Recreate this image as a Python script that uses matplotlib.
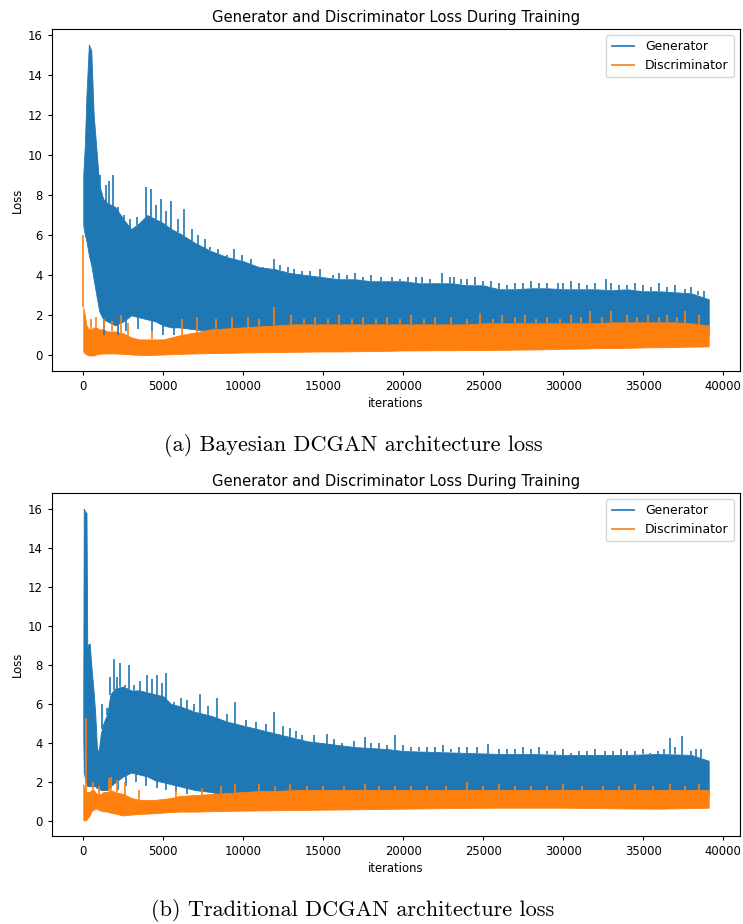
import numpy as np
import matplotlib
matplotlib.use("Agg")
import matplotlib.pyplot as plt

# ---- (a) Bayesian DCGAN: band envelopes ----
it_a = [0, 100, 200, 350, 500, 650, 800, 1000, 1250, 1500, 2000, 2500, 3000, 3500,
        4000, 4500, 5000, 5500, 6000, 7000, 8000, 9000, 10000, 11000, 12000, 13000,
        14000, 15000, 16000, 17000, 18000, 19000, 20000, 21000, 22000, 23000, 24000,
        25000, 26000, 27000, 28000, 29000, 30000, 31000, 32000, 33000, 34000, 35000,
        36000, 37000, 38000, 39100]
gen_hi_a = [9.0, 10.5, 13.0, 15.5, 15.2, 12.0, 10.5, 8.5, 7.8, 7.6, 7.4, 6.8, 6.3, 6.6,
            7.0, 6.8, 6.6, 6.3, 6.1, 5.6, 5.2, 4.9, 4.7, 4.4, 4.3, 4.1,
            4.0, 3.9, 3.8, 3.8, 3.7, 3.7, 3.7, 3.6, 3.6, 3.6, 3.5,
            3.5, 3.3, 3.3, 3.35, 3.35, 3.3, 3.3, 3.3, 3.25, 3.3, 3.2,
            3.2, 3.15, 3.1, 2.8]
gen_lo_a = [6.5, 6.0, 5.7, 5.0, 4.5, 3.8, 3.1, 2.2, 1.8, 1.7, 1.5, 1.7, 2.0, 1.9,
            1.8, 1.7, 1.5, 1.4, 1.4, 1.3, 1.2, 1.1, 1.0, 1.0, 1.0, 1.0,
            1.0, 1.0, 1.0, 1.0, 1.0, 1.0, 1.0, 1.0, 1.0, 1.0, 1.0,
            1.0, 1.0, 1.0, 1.0, 1.0, 1.0, 1.0, 1.0, 1.0, 1.0, 1.0,
            1.0, 1.0, 1.0, 1.0]
dis_hi_a = [2.4, 2.0, 1.5, 1.3, 1.3, 1.4, 1.4, 1.3, 1.3, 1.2, 1.2, 1.1, 0.9, 0.8,
            0.8, 0.8, 0.8, 0.9, 1.0, 1.15, 1.3, 1.35, 1.4, 1.45, 1.5, 1.55,
            1.55, 1.55, 1.55, 1.55, 1.55, 1.55, 1.55, 1.55, 1.55, 1.55, 1.55,
            1.6, 1.6, 1.6, 1.6, 1.6, 1.6, 1.6, 1.6, 1.65, 1.65, 1.65,
            1.65, 1.65, 1.6, 1.5]
dis_lo_a = [0.2, 0.1, 0.05, 0.0, 0.0, 0.0, 0.05, 0.08, 0.1, 0.1, 0.1, 0.08, 0.05, 0.03,
            0.02, 0.03, 0.05, 0.06, 0.08, 0.1, 0.12, 0.13, 0.15, 0.16, 0.17, 0.18,
            0.19, 0.2, 0.2, 0.21, 0.22, 0.23, 0.25, 0.25, 0.26, 0.26, 0.27,
            0.27, 0.28, 0.29, 0.3, 0.31, 0.33, 0.34, 0.36, 0.37, 0.38, 0.4,
            0.41, 0.42, 0.44, 0.45]
gen_spk_it_a = [1060, 1440, 1580, 1850, 2150, 2560, 2950, 3350, 3900, 4250, 4550, 4830,
                5150, 5500, 5900, 6270, 6800, 7200, 7600, 7900, 8400, 9000, 9400, 9900,
                10500, 11250, 11900, 12300, 12800, 13200, 13700, 14200, 14800, 15600,
                16000, 16500, 17000, 17500, 18000, 18600, 19300, 19800, 20300, 20800,
                21200, 21700, 22400, 22900, 23200, 23600, 24000, 24500, 25000, 25500,
                26000, 26500, 27000, 27500, 28000, 28500, 29000, 29700, 30000, 30500,
                31000, 31500, 32000, 32700, 33000, 33500, 34000, 34500, 35000, 35500,
                36000, 36500, 37000, 37600, 38000, 38400, 38800]
gen_spk_a = [9.0, 8.5, 8.7, 9.0, 7.4, 7.0, 6.8, 6.9, 8.4, 8.3, 7.5, 7.8,
             7.2, 7.7, 6.8, 7.3, 6.3, 6.0, 5.8, 5.4, 5.3, 5.0, 5.3, 5.0,
             4.8, 4.4, 4.8, 4.5, 4.4, 4.3, 4.2, 4.2, 4.3, 4.0,
             4.1, 4.0, 4.1, 3.9, 4.0, 3.9, 3.9, 3.8, 3.9, 3.9,
             3.9, 3.8, 4.1, 3.9, 3.9, 3.8, 3.8, 3.9, 3.7, 3.7,
             3.6, 3.5, 3.6, 3.6, 3.7, 3.6, 3.6, 3.6, 3.6, 3.7,
             3.6, 3.5, 3.6, 3.8, 3.6, 3.5, 3.5, 3.6, 3.5, 3.4,
             3.6, 3.4, 3.5, 3.3, 3.4, 3.2, 3.2]
gen_dip_it_a = [1300, 2200, 2700, 3400, 4300, 5000, 5700]
gen_dip_a = [1.0, 1.0, 1.2, 1.3, 1.2, 1.0, 1.0]
dis_spk_it_a = [0, 500, 800, 1300, 1800, 2350, 2800, 4300, 6200, 7100, 8300, 9300, 10300,
                11000, 11900, 13000, 13800, 14500, 15300, 16000, 16800, 17500, 18300,
                19000, 19800, 20500, 21300, 22000, 23000, 24000, 24800, 25600, 26200,
                27000, 27600, 28300, 29000, 29800, 30500, 31100, 31700, 32400, 33000,
                34000, 34600, 35300, 36000, 36500, 37100, 37600, 38500]
dis_spk_a = [6.0, 1.8, 1.9, 1.8, 1.7, 2.0, 1.6, 1.2, 1.8, 1.9, 1.8, 1.9, 1.9,
             1.8, 2.4, 2.0, 1.8, 1.9, 1.8, 2.0, 1.8, 1.9, 1.8,
             1.9, 1.8, 2.0, 1.8, 1.9, 1.9, 1.8, 2.1, 1.8, 2.0,
             1.9, 2.0, 1.8, 1.9, 1.8, 2.0, 1.9, 2.2, 1.9, 2.2,
             2.0, 1.9, 2.0, 1.9, 2.0, 1.9, 2.2, 2.0]

# ---- (b) Traditional DCGAN ----
it_b = [0, 30, 150, 200, 250, 400, 500, 650, 750, 850, 950, 1100, 1250, 1500, 1700,
        2000, 2500, 3000, 3500, 4000, 4500, 5000, 5500, 6000, 7000, 8000, 9000, 10000,
        11000, 12000, 13000, 14000, 15000, 16000, 17000, 18000, 19000, 20000, 22000,
        24000, 26000, 28000, 30000, 32000, 34000, 36000, 38000, 39100]
gen_hi_b = [6.5, 16.0, 15.8, 15.8, 9.0, 9.1, 8.0, 6.6, 5.5, 3.8, 3.5, 4.5, 5.0, 5.5, 6.5,
            6.8, 6.9, 6.7, 6.7, 6.6, 6.5, 6.4, 6.0, 5.9, 5.6, 5.4, 5.1, 4.9,
            4.7, 4.5, 4.3, 4.1, 4.0, 3.9, 3.8, 3.75, 3.7, 3.6, 3.55,
            3.5, 3.45, 3.45, 3.4, 3.4, 3.4, 3.45, 3.4, 3.1]
gen_lo_b = [4.5, 2.5, 2.0, 2.0, 1.8, 1.8, 1.8, 1.8, 1.8, 1.7, 1.7, 1.6, 1.6, 1.6, 1.8,
            2.0, 2.3, 2.5, 2.4, 2.3, 2.1, 2.0, 1.9, 1.8, 1.6, 1.5, 1.3, 1.3,
            1.3, 1.3, 1.3, 1.3, 1.3, 1.3, 1.3, 1.3, 1.3, 1.3, 1.3,
            1.3, 1.3, 1.3, 1.3, 1.3, 1.3, 1.3, 1.3, 1.3]
dis_hi_b = [1.9, 1.8, 1.5, 1.5, 1.5, 1.5, 1.6, 1.6, 1.5, 1.4, 1.4, 1.4, 1.5, 1.5, 1.6,
            1.5, 1.4, 1.2, 1.1, 1.1, 1.1, 1.15, 1.2, 1.3, 1.35, 1.4, 1.45, 1.5,
            1.55, 1.55, 1.6, 1.6, 1.6, 1.6, 1.6, 1.6, 1.6, 1.6, 1.6,
            1.6, 1.6, 1.6, 1.6, 1.6, 1.6, 1.6, 1.6, 1.6]
dis_lo_b = [0.1, 0.05, 0.05, 0.1, 0.15, 0.3, 0.5, 0.6, 0.65, 0.65, 0.6, 0.55, 0.52, 0.5, 0.45,
            0.4, 0.3, 0.35, 0.38, 0.4, 0.42, 0.45, 0.48, 0.5, 0.5, 0.52, 0.54, 0.55,
            0.56, 0.57, 0.58, 0.59, 0.6, 0.61, 0.62, 0.63, 0.64, 0.65, 0.67,
            0.69, 0.7, 0.7, 0.7, 0.68, 0.66, 0.65, 0.68, 0.7]
gen_spk_it_b = [1170, 1480, 1690, 1900, 2100, 2310, 2600, 2875, 3200, 3560, 4000, 4300,
                4625, 4900, 5170, 5700, 6100, 6500, 6900, 7310, 7800, 8360, 9000, 9500,
                10200, 10800, 11400, 11900, 12500, 12940, 13300, 13700, 14400, 15230,
                15700, 16200, 16900, 17620, 18000, 18500, 19000, 19460, 20000, 20500,
                21000, 21500, 22000, 22500, 23000, 23500, 24000, 24600, 25330, 26000,
                26500, 27000, 27500, 28000, 28460, 29000, 29500, 30000, 30500, 31000,
                31500, 32000, 32600, 33100, 33600, 34000, 34500, 35000, 35400, 35900,
                36300, 36690, 37000, 37420, 38000, 38300, 38600]
gen_spk_b = [6.0, 5.8, 7.4, 8.3, 7.4, 8.1, 7.0, 8.0, 7.0, 7.2, 7.5, 7.3,
             7.5, 7.1, 7.6, 6.1, 6.3, 6.2, 6.0, 6.5, 5.9, 6.3, 5.5, 6.1,
             5.2, 5.1, 5.0, 5.6, 4.9, 4.8, 4.6, 4.4, 4.4, 4.45,
             4.2, 4.0, 4.1, 4.3, 4.0, 4.0, 3.9, 4.4, 3.9, 3.8,
             3.8, 3.8, 3.8, 3.9, 3.7, 3.8, 3.8, 3.8, 3.94, 3.7,
             3.7, 3.7, 3.8, 3.7, 3.8, 3.6, 3.6, 3.7, 3.5, 3.6,
             3.6, 3.7, 3.6, 3.6, 3.7, 3.6, 3.6, 3.7, 3.5, 3.6,
             3.7, 4.24, 3.8, 4.35, 3.6, 3.7, 3.7]
gen_dip_it_b = [2200, 2700, 3300, 3900, 4600, 5200, 5800, 6500]
gen_dip_b = [1.6, 1.8, 2.0, 1.8, 1.7, 1.6, 1.5, 1.4]
dis_spk_it_b = [190, 600, 1000, 1600, 1750, 2100, 2600, 3500, 5800, 7400, 8600, 9500, 11000,
                12000, 12900, 14000, 15000, 16300, 17600, 18500, 19500, 20500, 21500,
                22700, 24000, 25000, 26000, 27000, 28000, 29000, 30000, 31200, 32500,
                33500, 34500, 35600, 36700, 37600, 38500]
dis_spk_b = [5.3, 2.0, 1.8, 2.2, 2.27, 2.1, 2.0, 1.6, 1.6, 1.7, 1.8, 1.9, 1.9,
             1.8, 1.9, 1.8, 1.8, 1.8, 1.9, 1.8, 1.8, 1.8, 1.8,
             1.8, 2.0, 1.8, 1.9, 1.8, 1.8, 1.8, 1.9, 1.8, 1.8,
             1.8, 1.9, 1.8, 1.9, 1.8, 1.9]

C_GEN = "#1f77b4"
C_DIS = "#ff7f0e"
FS = 8.4


def draw_panel(ax, it, g_hi, g_lo, d_hi, d_lo, g_si, g_s, g_di, g_d, d_si, d_s):
    ax.fill_between(it, g_lo, g_hi, color=C_GEN, lw=0.6)
    ax.vlines(g_si, np.interp(g_si, it, g_hi), g_s, color=C_GEN, lw=1.2, label="Generator")
    ax.vlines(g_di, g_d, np.interp(g_di, it, g_lo), color=C_GEN, lw=1.2)
    ax.fill_between(it, d_lo, d_hi, color=C_DIS, lw=0.6)
    ax.vlines(d_si, np.interp(d_si, it, d_hi), d_s, color=C_DIS, lw=1.2, label="Discriminator")
    ax.set_title("Generator and Discriminator Loss During Training", fontsize=10.6, pad=5)
    ax.set_xlabel("iterations", fontsize=FS, labelpad=3)
    ax.set_ylabel("Loss", fontsize=FS, labelpad=3)
    ax.tick_params(labelsize=FS, length=3)
    ax.legend(loc="upper right", fontsize=8.9)


fig = plt.figure(figsize=(7.43, 9.24), dpi=100)
ax1 = fig.add_axes([52 / 743, 553 / 924, 688 / 743, 342 / 924])
ax2 = fig.add_axes([52 / 743, 88 / 924, 688 / 743, 343 / 924])

draw_panel(ax1, it_a, gen_hi_a, gen_lo_a, dis_hi_a, dis_lo_a,
           gen_spk_it_a, gen_spk_a, gen_dip_it_a, gen_dip_a, dis_spk_it_a, dis_spk_a)
draw_panel(ax2, it_b, gen_hi_b, gen_lo_b, dis_hi_b, dis_lo_b,
           gen_spk_it_b, gen_spk_b, gen_dip_it_b, gen_dip_b, dis_spk_it_b, dis_spk_b)

fig.text(353 / 743, 1 - 446 / 924, "(a) Bayesian DCGAN architecture loss",
         family="cmr10", fontsize=16, ha="center", va="center")
fig.text(353 / 743, 1 - 911 / 924, "(b) Traditional DCGAN architecture loss",
         family="cmr10", fontsize=16, ha="center", va="center")

fig.savefig("out.png", dpi=100)
